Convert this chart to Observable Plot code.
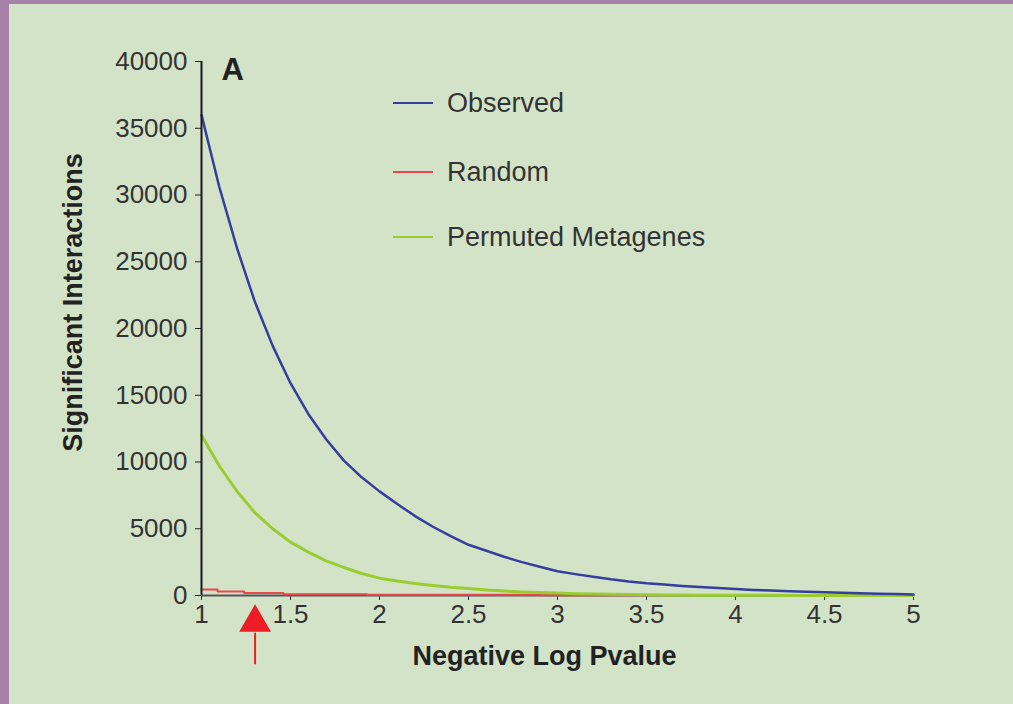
<!DOCTYPE html>
<html>
<head>
<meta charset="utf-8">
<script src="https://cdn.jsdelivr.net/npm/d3@7"></script>
<script src="https://cdn.jsdelivr.net/npm/@observablehq/plot@0.6"></script>
<style>
  html, body { margin: 0; padding: 0; background: #a682a8; }
  #wrap { position: relative; width: 1013px; height: 704px; background: #a682a8; overflow: hidden; }
  #panel { position: absolute; left: 9px; top: 4px; width: 1004px; height: 700px; background: #d3e3c8; }
  #legend { position: absolute; left: 384px; top: 0; font-family: "Liberation Sans", Arial, sans-serif; font-size: 27px; color: #333; }
  .item { position: absolute; left: 0; white-space: nowrap; display: flex; align-items: center; height: 30px; }
  .swatch { width: 40px; height: 0; border-top: 2.5px solid; margin-right: 14px; }
</style>
</head>
<body>
<div id="wrap"><div id="panel"><div id="chart"></div><div id="legend"></div></div></div>
<script>
// x positions (negative log p-value)
const xValues = [1.0,1.1,1.2,1.3,1.4,1.5,1.6,1.7,1.8,1.9,2.0,2.1,2.2,2.3,2.4,2.5,2.6,2.7,2.8,2.9,3.0,3.1,3.2,3.3,3.4,3.5,3.6,3.7,3.8,3.9,4.0,4.1,4.2,4.3,4.4,4.5,4.6,4.7,4.8,4.9,5.0];
const observed = [36000,30600,26000,22000,18700,15900,13600,11700,10100,8850,7800,6850,5950,5150,4450,3800,3350,2900,2500,2150,1820,1600,1400,1210,1050,920,820,720,640,560,480,420,370,320,280,240,200,170,140,110,80];
const permuted = [12000,9700,7800,6200,5000,4000,3250,2600,2100,1650,1300,1080,900,750,620,520,420,340,270,220,180,140,110,90,70,50,40,32,26,20,16,13,10,8,6,5,4,3,2,1,0];
// random: stepwise series
const randomX = [1.0,1.09,1.24,1.46,1.93,2.9,3.5];
const randomY = [450,300,180,100,50,15,0];
// arrow marks p = 0.05
const arrowX = [1.301];
const xTicks = [1,1.5,2,2.5,3,3.5,4,4.5,5];
const yTicks = [0,5000,10000,15000,20000,25000,30000,35000,40000];
const seriesNames = ["Observed","Random","Permuted Metagenes"];
const seriesColors = ["#373d9d","#e8474c","#9bcc2f"];

const obsData = xValues.map((x,i)=>({x, y: observed[i]}));
const permData = xValues.map((x,i)=>({x, y: permuted[i]}));
const randData = randomX.map((x,i)=>({x, y: randomY[i]}));

const chart = Plot.plot({
  width: 1004, height: 700,
  marginLeft: 192, marginRight: 100, marginTop: 57, marginBottom: 109,
  style: {background: "transparent", fontFamily: "'Liberation Sans', Arial, sans-serif", fontSize: "26px", color: "#333", overflow: "visible"},
  x: {domain: [1,5]},
  y: {domain: [0,40000]},
  marks: [
    Plot.axisX({ticks: xTicks, tickSize: 5, tickPadding: 4, tickFormat: d => String(d), label: null, stroke: "#333"}),
    Plot.axisY({ticks: yTicks, tickSize: 6, tickPadding: 8, tickFormat: d => String(d), label: null, stroke: "#222"}),
    Plot.ruleY([0], {stroke: "#555", strokeWidth: 2}),
    Plot.line(randData, {x: "x", y: "y", stroke: seriesColors[1], strokeWidth: 2, curve: "step-after"}),
    Plot.line(permData, {x: "x", y: "y", stroke: seriesColors[2], strokeWidth: 3}),
    Plot.line(obsData, {x: "x", y: "y", stroke: seriesColors[0], strokeWidth: 2.5}),
    Plot.ruleX([1], {stroke: "#1a1a1a", strokeWidth: 2}),
    Plot.dot(arrowX, {x: d => d, frameAnchor: "bottom", dy: 27, symbol: "triangle", r: 11.8, fill: "#ee1c25", stroke: "none"}),
    Plot.vector(arrowX, {x: d => d, frameAnchor: "bottom", dy: 38, length: 30, rotate: 180, anchor: "start", r: 0.01, stroke: "#ee1c25", strokeWidth: 2}),
    Plot.text(["A"], {frameAnchor: "top-left", dx: 20, dy: -4, fontSize: 31, fontWeight: "bold", fill: "#222"}),
    Plot.text(["Negative Log Pvalue"], {frameAnchor: "bottom", dx: -13, dy: 69, fontSize: 27, fontWeight: "bold", fill: "#222"}),
    Plot.text(["Significant Interactions"], {frameAnchor: "left", textAnchor: "middle", dx: -128, dy: -26, rotate: -90, fontSize: 27, fontWeight: "bold", fill: "#222"})
  ]
});
document.getElementById("chart").appendChild(chart);

const legendTops = [84, 153, 218];
const legend = document.getElementById("legend");
seriesNames.forEach((name, i) => {
  const item = document.createElement("div");
  item.className = "item";
  item.style.top = legendTops[i] + "px";
  const sw = document.createElement("div");
  sw.className = "swatch";
  sw.style.borderColor = seriesColors[i];
  item.appendChild(sw);
  const t = document.createElement("span");
  t.textContent = name;
  item.appendChild(t);
  legend.appendChild(item);
});
</script>
</body>
</html>
